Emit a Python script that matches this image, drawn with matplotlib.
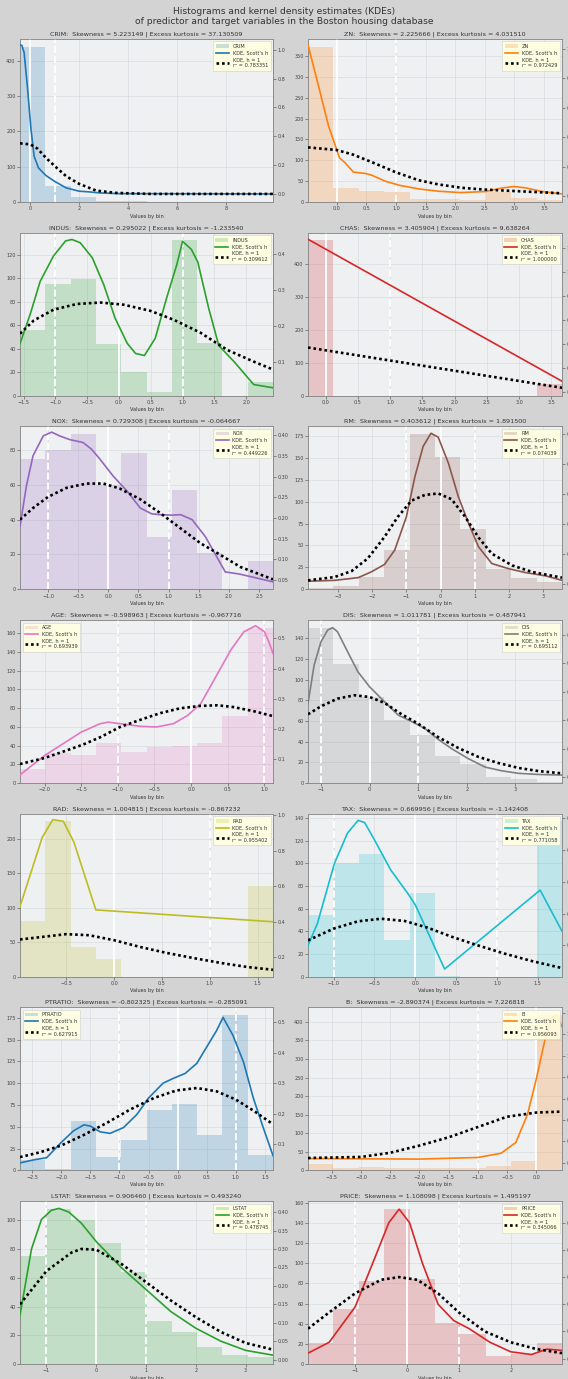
import matplotlib
matplotlib.use("Agg")
import matplotlib.pyplot as plt
import numpy as np
from matplotlib.patches import Patch
from matplotlib.lines import Line2D

# ---------------- data (standardised Boston housing variables) ----------------
names = ["CRIM", "ZN", "INDUS", "CHAS", "NOX", "RM", "AGE", "DIS", "RAD", "TAX",
         "PTRATIO", "B", "LSTAT", "PRICE"]
skewness = [5.223149, 2.225666, 0.295022, 3.405904, 0.729308, 0.403612, -0.598963,
            1.011781, 1.004815, 0.669956, -0.802325, -2.890374, 0.906460, 1.108098]
kurtosis = [37.130509, 4.031510, -1.233540, 9.638264, -0.064667, 1.891500, -0.967716,
            0.487941, -0.867232, -1.142408, -0.285091, 7.226818, 0.493240, 1.495197]
r_squared = [0.783351, 0.972429, 0.309612, 1.000000, 0.449226, 0.074039, 0.693939,
             0.695112, 0.955402, 0.771058, 0.627915, 0.956093, 0.478745, 0.345066]

crim_range = (-0.419, 9.934)
crim_counts = [439, 44, 14, 3, 2, 1, 0, 1, 1, 1]
crim_kde_x = [-0.419, -0.34, -0.25, -0.11, 0.03, 0.16, 0.34, 0.64, 0.99, 1.47, 2.0, 2.42, 2.84, 3.66, 9.934]
crim_kde_y = [1.035, 1.03, 0.98, 0.73, 0.45, 0.26, 0.18, 0.128, 0.088, 0.042, 0.019, 0.014, 0.007, 0.002, 0.0]
crim_h1_x = [-0.419, 0.0, 0.3, 0.64, 1.05, 1.47, 2.0, 2.7, 3.52, 4.9, 9.934]
crim_h1_y = [0.351, 0.344, 0.314, 0.251, 0.186, 0.123, 0.07, 0.023, 0.007, 0.0, 0.0]

zn_range = (-0.487, 3.804)
zn_counts = [372, 33, 27, 24, 8, 8, 5, 24, 10, 5]
zn_kde_x = [-0.487, -0.31, -0.14, 0.045, 0.14, 0.28, 0.48, 0.59, 0.82, 1.05, 1.38, 1.72, 2.09, 2.51, 2.8, 2.99, 3.19, 3.47, 3.804]
zn_kde_y = [1.027, 0.75, 0.477, 0.261, 0.227, 0.164, 0.155, 0.143, 0.102, 0.075, 0.05, 0.034, 0.025, 0.032, 0.057, 0.066, 0.057, 0.032, 0.016]
zn_h1_x = [-0.487, 0.0, 0.28, 0.59, 0.99, 1.38, 1.72, 2.12, 2.51, 3.08, 3.804]
zn_h1_y = [0.332, 0.314, 0.282, 0.232, 0.164, 0.109, 0.08, 0.057, 0.045, 0.034, 0.02]

indus_range = (-1.557, 2.423)
indus_counts = [56, 95, 99, 44, 20, 3, 132, 45, 0, 12]
indus_kde_x = [-1.557, -1.39, -1.24, -1.03, -0.84, -0.74, -0.61, -0.42, -0.24, -0.06, 0.13, 0.26, 0.4, 0.57, 0.75, 0.91, 1.0, 1.14, 1.24, 1.41, 1.57, 1.81, 2.12, 2.423]
indus_kde_y = [0.15, 0.236, 0.324, 0.395, 0.437, 0.441, 0.432, 0.39, 0.315, 0.221, 0.151, 0.123, 0.117, 0.165, 0.278, 0.371, 0.436, 0.413, 0.378, 0.25, 0.145, 0.1, 0.036, 0.027]
indus_h1_x = [-1.557, -1.34, -1.03, -0.66, -0.29, 0.07, 0.49, 0.86, 1.28, 1.7, 2.12, 2.423]
indus_h1_y = [0.178, 0.215, 0.245, 0.261, 0.265, 0.259, 0.242, 0.217, 0.181, 0.133, 0.1, 0.078]

chas_range = (-0.272, 3.665)
chas_counts = [471, 0, 0, 0, 0, 0, 0, 0, 0, 35]
chas_kde_x = [-0.272, 3.665]
chas_kde_y = [1.275, 0.087]
chas_h1_x = [-0.272, 3.665]
chas_h1_y = [0.369, 0.032]

nox_range = (-1.466, 2.732)
nox_counts = [75, 80, 89, 60, 78, 30, 57, 21, 0, 16]
nox_kde_x = [-1.466, -1.36, -1.25, -1.08, -0.94, -0.81, -0.64, -0.42, -0.28, -0.14, 0.08, 0.31, 0.53, 0.72, 0.86, 1.05, 1.2, 1.39, 1.61, 1.94, 2.17, 2.5, 2.732]
nox_kde_y = [0.18, 0.277, 0.35, 0.398, 0.407, 0.398, 0.389, 0.382, 0.366, 0.342, 0.301, 0.265, 0.224, 0.21, 0.208, 0.207, 0.208, 0.196, 0.155, 0.07, 0.065, 0.054, 0.046]
nox_h1_x = [-1.466, -1.25, -1.0, -0.69, -0.36, -0.08, 0.19, 0.53, 0.86, 1.19, 1.53, 1.86, 2.19, 2.732]
nox_h1_y = [0.196, 0.224, 0.251, 0.273, 0.283, 0.283, 0.271, 0.245, 0.212, 0.176, 0.139, 0.111, 0.082, 0.052]

rm_range = (-3.877, 3.552)
rm_counts = [2, 4, 14, 45, 177, 151, 69, 23, 13, 8]
rm_kde_x = [-3.877, -3.1, -2.41, -2.03, -1.64, -1.34, -1.0, -0.75, -0.51, -0.28, -0.07, 0.23, 0.52, 0.82, 1.11, 1.5, 1.99, 2.48, 3.07, 3.552]
rm_kde_y = [0.008, 0.011, 0.02, 0.039, 0.064, 0.112, 0.223, 0.357, 0.458, 0.502, 0.489, 0.402, 0.29, 0.201, 0.123, 0.067, 0.05, 0.037, 0.026, 0.011]
rm_h1_x = [-3.877, -3.1, -2.6, -2.13, -1.64, -1.25, -0.85, -0.46, -0.07, 0.32, 0.72, 1.11, 1.5, 2.09, 2.68, 3.552]
rm_h1_y = [0.011, 0.022, 0.042, 0.084, 0.156, 0.223, 0.277, 0.296, 0.301, 0.282, 0.223, 0.154, 0.1, 0.061, 0.039, 0.02]

age_range = (-2.335, 1.117)
age_counts = [15, 32, 30, 43, 33, 38, 40, 43, 72, 166]
age_kde_x = [-2.335, -2.0, -1.5, -1.24, -1.13, -0.97, -0.69, -0.47, -0.24, -0.05, 0.13, 0.31, 0.54, 0.72, 0.88, 1.0, 1.06, 1.117]
age_kde_y = [0.047, 0.111, 0.189, 0.217, 0.222, 0.217, 0.208, 0.206, 0.217, 0.244, 0.283, 0.361, 0.461, 0.522, 0.542, 0.522, 0.489, 0.45]
age_h1_x = [-2.335, -2.0, -1.7, -1.47, -1.24, -0.97, -0.69, -0.42, -0.15, 0.13, 0.36, 0.58, 0.86, 1.117]
age_h1_y = [0.083, 0.103, 0.128, 0.148, 0.172, 0.206, 0.23, 0.252, 0.268, 0.276, 0.278, 0.272, 0.258, 0.242]

dis_range = (-1.266, 3.961)
dis_counts = [150, 115, 83, 61, 46, 26, 18, 6, 4, 1]
dis_kde_x = [-1.266, -1.14, -1.0, -0.86, -0.76, -0.66, -0.45, -0.24, 0.0, 0.31, 0.59, 0.86, 1.14, 1.41, 1.69, 2.03, 2.38, 2.72, 3.07, 3.48, 3.961]
dis_kde_y = [0.259, 0.394, 0.476, 0.518, 0.526, 0.512, 0.441, 0.371, 0.318, 0.265, 0.218, 0.196, 0.171, 0.133, 0.1, 0.065, 0.035, 0.022, 0.013, 0.009, 0.007]
dis_h1_x = [-1.266, -1.0, -0.66, -0.31, 0.0, 0.31, 0.66, 1.0, 1.41, 1.83, 2.24, 2.66, 3.07, 3.48, 3.961]
dis_h1_y = [0.221, 0.249, 0.276, 0.288, 0.282, 0.261, 0.221, 0.188, 0.141, 0.102, 0.071, 0.049, 0.032, 0.021, 0.013]

rad_range = (-0.982, 1.660)
rad_counts = [81, 225, 43, 25, 0, 0, 0, 0, 0, 132]
rad_kde_x = [-0.982, -0.75, -0.64, -0.53, -0.42, -0.19, 1.66]
rad_kde_y = [0.486, 0.876, 0.976, 0.967, 0.851, 0.467, 0.4]
rad_h1_x = [-0.982, -0.5, -0.26, 0.0, 0.27, 0.55, 0.83, 1.12, 1.4, 1.66]
rad_h1_y = [0.3, 0.33, 0.324, 0.296, 0.258, 0.224, 0.195, 0.167, 0.144, 0.129]

tax_range = (-1.314, 1.798)
tax_counts = [54, 100, 108, 32, 74, 1, 0, 0, 0, 137]
tax_kde_x = [-1.314, -1.2, -0.99, -0.83, -0.7, -0.62, -0.5, -0.3, -0.09, 0.0, 0.36, 1.53, 1.798]
tax_kde_y = [0.1, 0.168, 0.358, 0.453, 0.493, 0.486, 0.432, 0.337, 0.263, 0.228, 0.026, 0.274, 0.145]
tax_h1_x = [-1.314, -1.0, -0.7, -0.42, -0.13, 0.15, 0.44, 0.77, 1.1, 1.43, 1.798]
tax_h1_y = [0.116, 0.153, 0.176, 0.184, 0.177, 0.156, 0.128, 0.1, 0.074, 0.051, 0.029]

ptratio_range = (-2.707, 1.638)
ptratio_counts = [12, 2, 57, 15, 35, 69, 76, 40, 178, 18]
ptratio_kde_x = [-2.707, -2.47, -2.25, -2.0, -1.79, -1.61, -1.5, -1.33, -1.16, -0.93, -0.7, -0.5, -0.25, -0.07, 0.13, 0.33, 0.5, 0.67, 0.78, 0.95, 1.13, 1.3, 1.47, 1.638]
ptratio_kde_y = [0.038, 0.048, 0.055, 0.105, 0.143, 0.163, 0.159, 0.14, 0.135, 0.154, 0.197, 0.251, 0.3, 0.316, 0.332, 0.365, 0.419, 0.473, 0.516, 0.457, 0.37, 0.251, 0.154, 0.062]
ptratio_h1_x = [-2.707, -2.36, -2.0, -1.61, -1.21, -0.81, -0.41, -0.02, 0.33, 0.67, 1.0, 1.3, 1.638]
ptratio_h1_y = [0.057, 0.073, 0.095, 0.13, 0.17, 0.214, 0.251, 0.276, 0.284, 0.273, 0.246, 0.21, 0.165]

b_range = (-3.907, 0.441)
b_counts = [18, 5, 8, 7, 5, 5, 5, 11, 24, 418]
b_kde_x = [-3.907, -2.0, -1.0, -0.6, -0.35, -0.15, 0.0, 0.15, 0.28, 0.35, 0.441]
b_kde_y = [0.04, 0.035, 0.05, 0.09, 0.19, 0.45, 0.78, 1.15, 1.36, 1.38, 1.27]
b_h1_x = [-3.907, -3.0, -2.5, -2.0, -1.5, -1.0, -0.5, 0.0, 0.441]
b_h1_y = [0.045, 0.055, 0.094, 0.161, 0.238, 0.334, 0.43, 0.469, 0.478]

lstat_range = (-1.531, 3.549)
lstat_counts = [75, 108, 100, 84, 64, 30, 22, 12, 6, 5]
lstat_kde_x = [-1.531, -1.3, -1.1, -0.9, -0.75, -0.55, -0.3, 0.0, 0.5, 1.0, 1.5, 2.0, 2.5, 3.0, 3.549]
lstat_kde_y = [0.12, 0.3, 0.38, 0.405, 0.41, 0.4, 0.37, 0.32, 0.25, 0.19, 0.13, 0.085, 0.05, 0.025, 0.012]
lstat_h1_x = [-1.531, -1.0, -0.5, -0.3, 0.0, 0.5, 1.0, 1.5, 2.0, 2.5, 3.0, 3.549]
lstat_h1_y = [0.15, 0.24, 0.29, 0.3, 0.298, 0.26, 0.21, 0.16, 0.115, 0.075, 0.045, 0.027]

price_range = (-1.908, 2.989)
price_counts = [21, 55, 82, 154, 84, 41, 30, 8, 10, 21]
price_kde_x = [-1.908, -1.5, -1.0, -0.6, -0.35, -0.15, 0.05, 0.3, 0.6, 0.9, 1.2, 1.6, 2.0, 2.4, 2.7, 2.989]
price_kde_y = [0.02, 0.06, 0.19, 0.38, 0.5, 0.55, 0.5, 0.35, 0.2, 0.14, 0.11, 0.06, 0.025, 0.015, 0.035, 0.03]
price_h1_x = [-1.908, -1.5, -1.0, -0.5, -0.15, 0.2, 0.6, 1.0, 1.5, 2.0, 2.5, 2.989]
price_h1_y = [0.11, 0.17, 0.24, 0.29, 0.3, 0.29, 0.24, 0.17, 0.1, 0.06, 0.035, 0.02]

ranges = [crim_range, zn_range, indus_range, chas_range, nox_range, rm_range, age_range,
          dis_range, rad_range, tax_range, ptratio_range, b_range, lstat_range, price_range]
counts = [crim_counts, zn_counts, indus_counts, chas_counts, nox_counts, rm_counts, age_counts,
          dis_counts, rad_counts, tax_counts, ptratio_counts, b_counts, lstat_counts, price_counts]
kde_x = [crim_kde_x, zn_kde_x, indus_kde_x, chas_kde_x, nox_kde_x, rm_kde_x, age_kde_x,
         dis_kde_x, rad_kde_x, tax_kde_x, ptratio_kde_x, b_kde_x, lstat_kde_x, price_kde_x]
kde_y = [crim_kde_y, zn_kde_y, indus_kde_y, chas_kde_y, nox_kde_y, rm_kde_y, age_kde_y,
         dis_kde_y, rad_kde_y, tax_kde_y, ptratio_kde_y, b_kde_y, lstat_kde_y, price_kde_y]
h1_x = [crim_h1_x, zn_h1_x, indus_h1_x, chas_h1_x, nox_h1_x, rm_h1_x, age_h1_x,
        dis_h1_x, rad_h1_x, tax_h1_x, ptratio_h1_x, b_h1_x, lstat_h1_x, price_h1_x]
h1_y = [crim_h1_y, zn_h1_y, indus_h1_y, chas_h1_y, nox_h1_y, rm_h1_y, age_h1_y,
        dis_h1_y, rad_h1_y, tax_h1_y, ptratio_h1_y, b_h1_y, lstat_h1_y, price_h1_y]

# density-axis limits
density_ylim = [(-0.056, 1.075), (-0.039, 1.068), (0.005, 0.46), (-0.034, 1.33),
                (0.028, 0.421), (-0.019, 0.525), (0.02, 0.561), (-0.021, 0.553),
                (0.09, 1.01), (0.002, 0.514), (0.0135, 0.549), (-0.07, 1.45),
                (-0.012, 0.43), (-0.02, 0.58)]
legend_loc = ["upper right"] * 14
legend_loc[6] = "upper left"
legend_loc[10] = "upper left"

# ---------------- styling ----------------
palette = plt.rcParams["axes.prop_cycle"].by_key()["color"]
FIG_BG = "#d3d3d3"
AX_BG = "#eef0f2"
TXT = "#333333"

W, H = 568, 1379
fig = plt.figure(figsize=(W / 100, H / 100), dpi=100, facecolor=FIG_BG)
fig.text(0.5, 1 - 7 / H, "Histograms and kernel density estimates (KDEs)\n"
         "of predictor and target variables in the Boston housing database",
         ha="center", va="top", fontsize=6.6, color=TXT, linespacing=1.15)

col_x = [(20, 273), (308, 562)]
for i, name in enumerate(names):
    row, col = divmod(i, 2)
    x0, x1 = col_x[col]
    bottom = 202 + 193.67 * row
    hgt = 163
    ax = fig.add_axes([x0 / W, 1 - bottom / H, (x1 - x0) / W, hgt / H])
    color = palette[i % 10]
    lo, hi = ranges[i]
    cnt = np.asarray(counts[i], dtype=float)
    edges = np.linspace(lo, hi, len(cnt) + 1)
    ax.set_facecolor(AX_BG)
    ax.bar(edges[:-1], cnt, width=np.diff(edges), align="edge", color=color,
           alpha=0.22, linewidth=0, zorder=2)
    ax.grid(True, color="#d9dcdf", linewidth=0.5, zorder=0)
    ax.set_axisbelow(True)
    for v, ls in ((-1, (0, (4, 1.5))), (0, "-"), (1, (0, (4, 1.5)))):
        ax.axvline(v, color="white", linewidth=1.3, linestyle=ls, zorder=3)
    ax.set_xlim(lo, hi)
    ax.set_ylim(0, cnt.max() * 1.05)
    ax.set_xlabel("Values by bin", fontsize=3.6, color=TXT, labelpad=1.5)
    ax.set_title(f"{name}:  Skewness = {skewness[i]:.6f} | Excess kurtosis = {kurtosis[i]:.6f}",
                 fontsize=4.6, color=TXT, pad=2.5)

    ax2 = ax.twinx()
    ax2.plot(kde_x[i], kde_y[i], color=color, linewidth=1.2, zorder=4)
    ax2.plot(h1_x[i], h1_y[i], color="black", linewidth=1.9,
             linestyle=(0, (1, 1.1)), zorder=5)
    ax2.set_ylim(*density_ylim[i])
    ax2.set_xlim(lo, hi)

    for a in (ax, ax2):
        a.tick_params(labelsize=3.5, length=2, width=0.4, pad=1.2, colors="#444444")
        for s in a.spines.values():
            s.set_color("#888888")
            s.set_linewidth(0.5)

    handles = [Patch(facecolor=color, alpha=0.22, linewidth=0),
               Line2D([], [], color=color, linewidth=1.2),
               Line2D([], [], color="black", linewidth=1.9, linestyle=(0, (1, 1.1)))]
    labels = [name, "KDE, Scott's h", f"KDE, h = 1\nr² = {r_squared[i]:.6f}"]
    leg = ax2.legend(handles, labels, loc=legend_loc[i], fontsize=3.6,
                     facecolor="#ffffe0", edgecolor="#cccccc", framealpha=0.9,
                     handlelength=2.6, borderpad=0.5, labelspacing=0.35,
                     handletextpad=0.8, borderaxespad=0.5, fancybox=False)
    leg.get_frame().set_linewidth(0.4)
    for t in leg.get_texts():
        t.set_color(TXT)

fig.savefig("out.png", dpi=100, facecolor=FIG_BG)
